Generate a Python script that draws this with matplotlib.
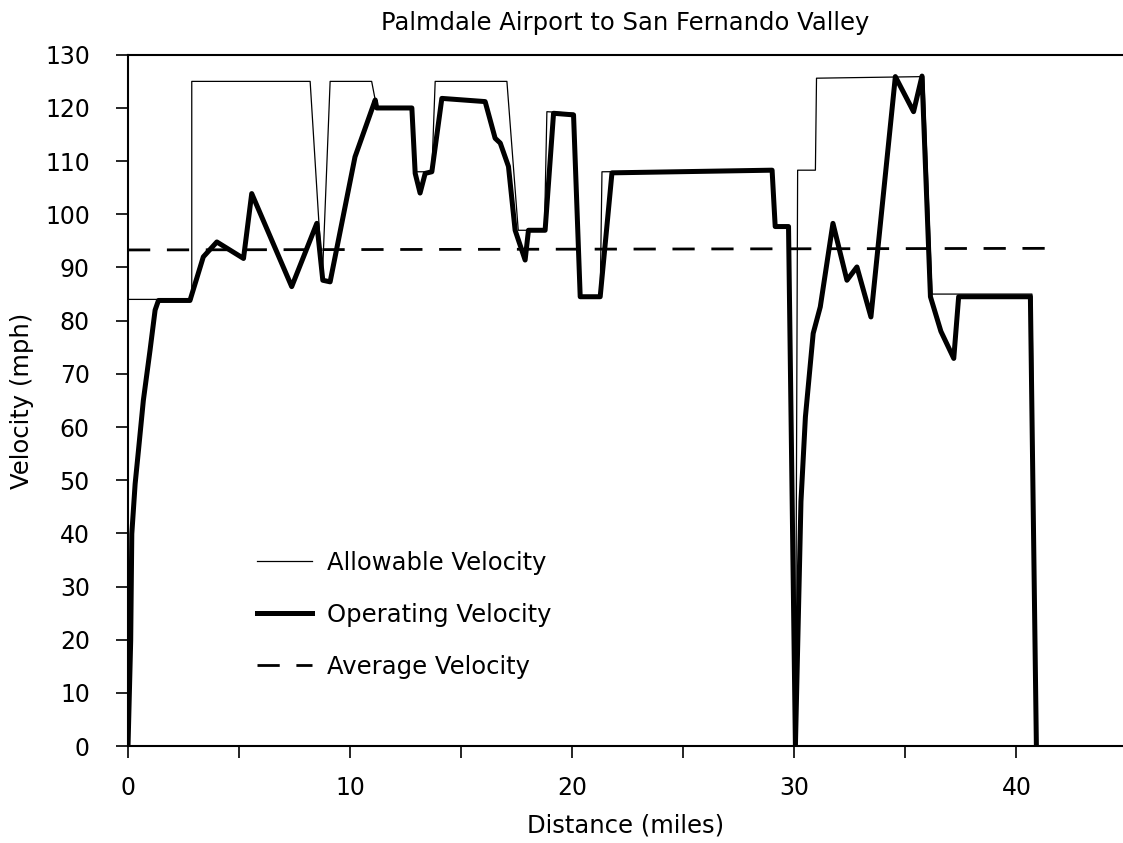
import numpy as np
import matplotlib
matplotlib.use('Agg')
import matplotlib.pyplot as plt

# allowable velocity profile (miles, mph)
allow_x = [0, 0, 2.87, 2.87, 8.2, 8.75, 9.1, 10.97, 11.2, 12.78, 12.93, 13.68, 13.83,
           17.06, 17.57, 18.75, 18.86, 20.06, 20.36, 21.26, 21.34, 29.0, 29.14, 29.74,
           30.05, 30.15, 30.95, 31.0, 35.83, 36.2, 40.7, 40.9]
allow_y = [0, 84, 84, 125, 125, 88, 125, 125, 120, 120, 108, 108, 125,
           125, 97, 97, 119.3, 119, 84.5, 84.5, 108, 108.3, 97.7, 97.7,
           0, 108.3, 108.3, 125.6, 125.9, 85, 85, 0]

# operating velocity profile
op_x = [0, 0.12, 0.17, 0.32, 0.47, 0.69, 0.99, 1.22, 1.37, 2.79, 3.39, 4.0, 5.2, 5.57,
        7.37, 8.5, 8.77, 9.1, 10.22, 11.13, 11.2, 12.78, 12.93, 13.15, 13.38, 13.68,
        14.13, 16.08, 16.53, 16.76, 17.13, 17.43, 17.88, 18.03, 18.78, 19.16, 20.06,
        20.36, 21.26, 21.79, 29.0, 29.14, 29.74, 30.05, 30.3, 30.5, 30.85, 31.17,
        31.74, 32.37, 32.82, 33.45, 34.55, 35.37, 35.75, 36.13, 36.6, 37.18, 37.4,
        40.63, 40.9]
op_y = [0, 19.8, 39.9, 49.3, 55.6, 65, 74.4, 82, 83.8, 83.8, 92, 94.8, 91.7, 103.9,
        86.4, 98.3, 87.6, 87.3, 110.8, 121.5, 120, 120, 107.7, 104, 107.7, 108,
        121.8, 121.2, 114.3, 113.4, 109, 97, 91.4, 97, 97, 119, 118.7,
        84.5, 84.5, 107.8, 108.3, 97.7, 97.7, 0, 46, 61.9, 77.6, 82.6,
        98.3, 87.6, 90.1, 80.7, 125.9, 119.3, 126, 84.5, 78, 72.9, 84.5,
        84.5, 0]

avg_x = [0, 41.5]
avg_y = [93.3, 93.6]

fig = plt.figure(figsize=(11.23, 8.43), dpi=100)
ax = fig.add_axes([0.114, 0.115, 0.886, 0.82])

ax.plot(allow_x, allow_y, color='black', lw=0.9, label='Allowable Velocity')
ax.plot(op_x, op_y, color='black', lw=3.6, solid_joinstyle='round',
        label='Operating Velocity')
ax.plot(avg_x, avg_y, color='black', lw=2, dashes=(8, 6), label='Average Velocity')

ax.set_xlim(0, 44.8)
ax.set_ylim(0, 130)
ax.set_xticks([0, 10, 20, 30, 40])
ax.set_xticks([5, 15, 25, 35], minor=True)
ax.set_yticks(np.arange(0, 131, 10))

ax.spines['right'].set_visible(False)
for s in ['left', 'bottom', 'top']:
    ax.spines[s].set_linewidth(1.5)
ax.tick_params(which='both', direction='out', length=8.5, width=1.2, labelsize=17)
ax.tick_params(axis='x', which='both', pad=13)
ax.tick_params(axis='y', pad=19)

ax.set_xlabel('Distance (miles)', fontsize=17.5, labelpad=10)
ax.set_ylabel('Velocity (mph)', fontsize=17.5, labelpad=8)
ax.set_title('Palmdale Airport to San Fernando Valley', fontsize=17.5, pad=18)

ax.legend(loc='center left', bbox_to_anchor=(0.1077, 0.19), frameon=False, fontsize=17.5,
          handlelength=2.26, handletextpad=0.62, labelspacing=1.16)

plt.savefig('out.png')
